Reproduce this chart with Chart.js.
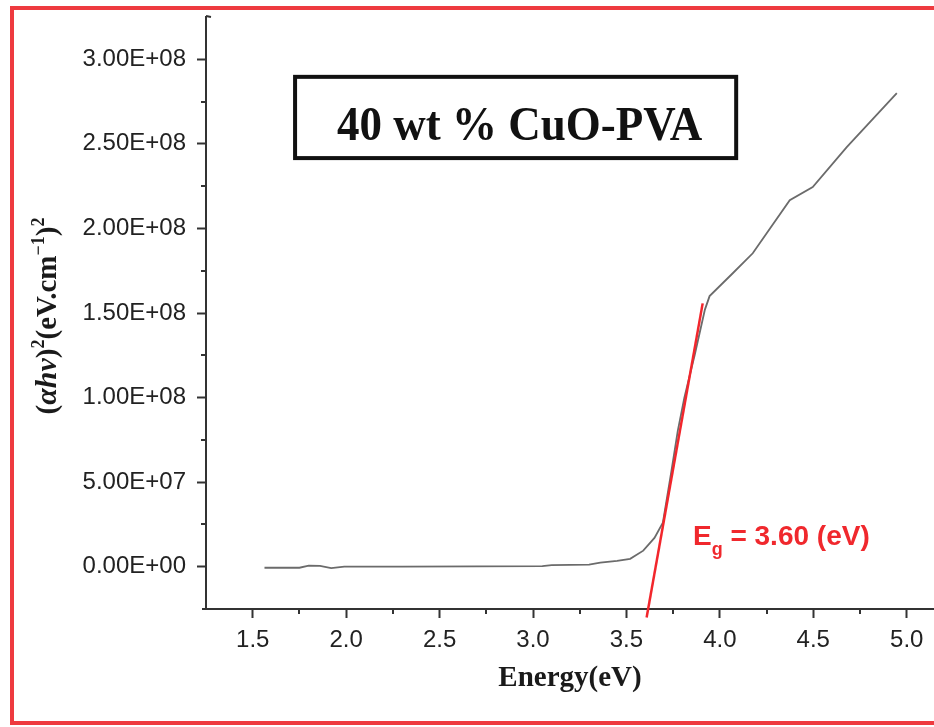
<!DOCTYPE html>
<html>
<head>
<meta charset="utf-8">
<script src="https://cdn.jsdelivr.net/npm/chart.js@4.4.1/dist/chart.umd.min.js"></script>
<style>
  html, body { margin: 0; padding: 0; background: #fff; overflow: hidden; }
  #frame { position: absolute; left: 10px; top: 6px; width: 960px; height: 711px; border: 4px solid #ee3a3f; border-right: none; }
  #wrap { position: absolute; left: 0; top: 0; width: 934px; height: 727px; }
</style>
</head>
<body>
<div id="frame"></div>
<div id="wrap"><canvas id="tauc" width="934" height="727"></canvas></div>
<script>
// Tauc plot
const energy = [1.563, 1.65, 1.75, 1.80, 1.86, 1.92, 1.99, 2.3, 2.7, 3.05, 3.10, 3.30, 3.36, 3.45, 3.52, 3.59, 3.65, 3.695, 3.74, 3.775, 3.81, 3.865, 3.92, 3.945, 4.069, 4.176, 4.374, 4.497, 4.679, 4.947];
const taucValues = [-0.6e6, -0.6e6, -0.6e6, 0.6e6, 0.5e6, -0.8e6, 0, 0, 0.2e6, 0.3e6, 0.9e6, 1.2e6, 2.4e6, 3.5e6, 4.7e6, 9.5e6, 1.7e7, 2.6e7, 5.6e7, 8.05e7, 1.0e8, 1.25e8, 1.52e8, 1.60e8, 1.735e8, 1.853e8, 2.167e8, 2.244e8, 2.481e8, 2.80e8];

// linear fit used for the band gap
const fitEnergy = [3.608, 3.908];
const fitValues = [-3.0e7, 1.557e8];

const xTicks = [1.5, 2.0, 2.5, 3.0, 3.5, 4.0, 4.5, 5.0];
const xMinorTicks = [1.75, 2.25, 2.75, 3.25, 3.75, 4.25, 4.75];
const yTicks = [0, 5e7, 1e8, 1.5e8, 2e8, 2.5e8, 3e8];
const yMinorTicks = [2.5e7, 7.5e7, 1.25e8, 1.75e8, 2.25e8, 2.75e8];

const sampleLabel = "40 wt % CuO-PVA";
const gapLabel = ["E", "g", " = 3.60 (eV)"];

const axisColor = "#333";
const sansFont = "'Liberation Sans', Arial, sans-serif";
const serifFont = "'Liberation Serif', 'Times New Roman', serif";

function formatScientific(value) {
  if (value === 0) return "0.00E+00";
  const exponent = Math.floor(Math.log10(Math.abs(value)) + 1e-9);
  const mantissa = value / Math.pow(10, exponent);
  return mantissa.toFixed(2) + "E+" + String(exponent).padStart(2, "0");
}

function toPoints(xs, ys) {
  return xs.map((x, i) => ({ x: x, y: ys[i] }));
}

function drawRich(ctx, parts) {
  // parts: [text, font, raise]
  let total = 0;
  for (const p of parts) {
    ctx.font = p[1];
    total += ctx.measureText(p[0]).width;
  }
  let x = -total / 2;
  for (const p of parts) {
    ctx.font = p[1];
    ctx.fillText(p[0], x, -p[2]);
    x += ctx.measureText(p[0]).width;
  }
}

const decorations = {
  id: "decorations",
  afterDraw(chart) {
    const ctx = chart.ctx;
    const xs = chart.scales.x;
    const ys = chart.scales.y;
    const area = chart.chartArea;
    ctx.save();

    // minor ticks
    ctx.strokeStyle = axisColor;
    ctx.lineWidth = 2;
    ctx.beginPath();
    for (const v of xMinorTicks) {
      const px = Math.round(xs.getPixelForValue(v));
      ctx.moveTo(px, area.bottom);
      ctx.lineTo(px, area.bottom + 5);
    }
    for (const v of yMinorTicks) {
      const py = Math.round(ys.getPixelForValue(v));
      ctx.moveTo(area.left, py);
      ctx.lineTo(area.left - 5, py);
    }
    // axis end caps
    ctx.moveTo(area.left, area.top - 1);
    ctx.lineTo(area.left + 5, area.top);
    ctx.moveTo(area.left - 4, area.bottom);
    ctx.lineTo(area.left, area.bottom);
    ctx.stroke();

    // x axis title
    ctx.fillStyle = "#1a1a1a";
    ctx.textBaseline = "alphabetic";
    ctx.textAlign = "left";
    ctx.save();
    ctx.translate((area.left + area.right) / 2, 686);
    drawRich(ctx, [["Energy(eV)", "bold 29px " + serifFont, 0]]);
    ctx.restore();

    // y axis title
    ctx.save();
    ctx.translate(56, 316);
    ctx.rotate(-Math.PI / 2);
    const big = "bold 29px " + serifFont;
    const ital = "bold italic 30px " + serifFont;
    const sup = "bold 18px " + serifFont;
    drawRich(ctx, [
      ["(", big, 0], ["αhν", ital, 0], [")", big, 0], ["2", sup, 12],
      ["(eV.cm", big, 0], ["−1", sup, 12], [")", big, 0], ["2", sup, 12]
    ]);
    ctx.restore();

    // sample box
    const bx0 = xs.getPixelForValue(1.716);
    const bx1 = xs.getPixelForValue(4.098);
    const by0 = ys.getPixelForValue(2.908e8);
    const by1 = ys.getPixelForValue(2.404e8);
    ctx.strokeStyle = "#111";
    ctx.lineWidth = 4;
    ctx.strokeRect(bx0 + 2, by0 + 2, bx1 - bx0 - 4, by1 - by0 - 4);
    ctx.fillStyle = "#111";
    ctx.save();
    ctx.translate((bx0 + bx1) / 2 + 4, by0 + 65);
    ctx.scale(1, 1.1);
    drawRich(ctx, [[sampleLabel, "bold 45px " + serifFont, 0]]);
    ctx.restore();

    // band gap label
    ctx.fillStyle = "#f0282d";
    let gx = xs.getPixelForValue(3.856);
    const gy = ys.getPixelForValue(1.3e7);
    ctx.font = "bold 28px " + sansFont;
    ctx.fillText(gapLabel[0], gx, gy);
    gx += ctx.measureText(gapLabel[0]).width;
    ctx.font = "bold 18px " + sansFont;
    ctx.fillText(gapLabel[1], gx, gy + 10);
    gx += ctx.measureText(gapLabel[1]).width;
    ctx.font = "bold 28px " + sansFont;
    ctx.fillText(gapLabel[2], gx, gy);

    ctx.restore();
  }
};

new Chart(document.getElementById("tauc"), {
  type: "line",
  data: {
    datasets: [
      {
        data: toPoints(fitEnergy, fitValues),
        borderColor: "#f2262c",
        borderWidth: 2.5,
        pointRadius: 0,
        tension: 0,
        clip: { left: 0, top: 0, right: 0, bottom: 12 },
      },
      {
        data: toPoints(energy, taucValues),
        borderColor: "#6b6b6b",
        borderWidth: 1.8,
        pointRadius: 0,
        tension: 0,
      },
    ],
  },
  options: {
    responsive: false,
    animation: false,
    layout: { padding: { top: 17, right: 0, left: 0, bottom: 0 } },
    plugins: { legend: { display: false }, tooltip: { enabled: false } },
    scales: {
      x: {
        type: "linear",
        min: 1.25,
        max: 5.146,
        afterFit(scale) {
          scale.height = 118;
          scale.paddingLeft = 0;
          scale.paddingRight = 0;
        },
        afterBuildTicks(scale) { scale.ticks = xTicks.map((v) => ({ value: v })); },
        grid: { drawOnChartArea: false, tickLength: 9, tickWidth: 2, tickColor: axisColor },
        border: { color: axisColor, width: 2 },
        ticks: {
          font: { family: sansFont, size: 24 },
          color: "#222",
          padding: 8,
          maxRotation: 0,
          autoSkip: false,
          callback: (v) => Number(v).toFixed(1),
        },
      },
      y: {
        min: -2.5e7,
        max: 3.25e8,
        afterFit(scale) {
          scale.width = 206;
          scale.paddingTop = 0;
          scale.paddingBottom = 0;
        },
        afterBuildTicks(scale) { scale.ticks = yTicks.map((v) => ({ value: v })); },
        grid: { drawOnChartArea: false, tickLength: 9, tickWidth: 2, tickColor: axisColor },
        border: { color: axisColor, width: 2 },
        ticks: {
          font: { family: sansFont, size: 24 },
          color: "#222",
          padding: 11,
          autoSkip: false,
          callback: (v) => formatScientific(v),
        },
      },
    },
  },
  plugins: [decorations],
});
</script>
</body>
</html>
